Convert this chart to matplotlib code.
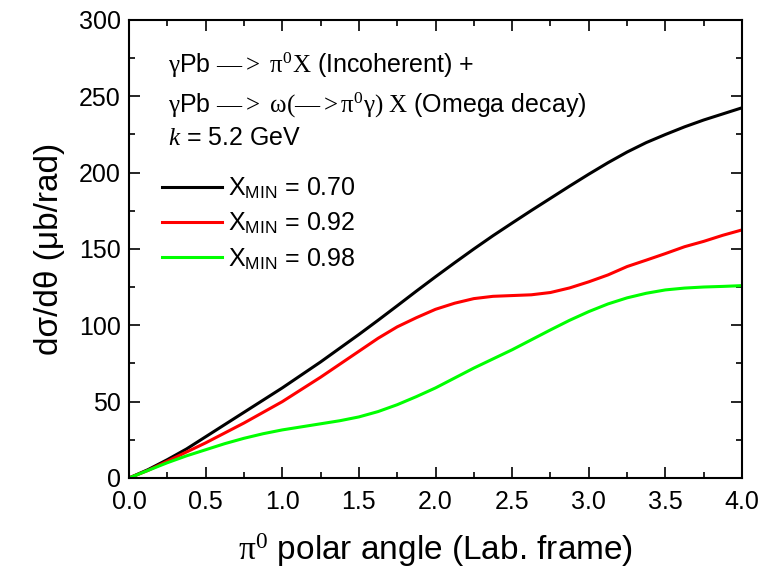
import numpy as np
import matplotlib
matplotlib.use("Agg")
import matplotlib.pyplot as plt
from matplotlib.ticker import MultipleLocator

# Data (pi0 polar angle vs d sigma / d theta)
angle = np.arange(33) * 0.125
xs_070 = np.array([0, 5.5, 12, 19, 27, 35, 43, 51, 59, 67.5, 76, 85, 94, 103.3, 112.8, 122.4,
                   131.8, 141, 150, 158.7, 167, 175.2, 183.2, 191.2, 199, 206.5, 213.5, 219.7,
                   225, 230, 234.5, 238.5, 242.5])
xs_092 = np.array([0, 5, 11, 17, 23, 29.5, 36, 43, 50, 58, 66, 74.5, 83, 91.5, 99, 105, 110.5,
                   114.5, 117.5, 119, 119.5, 120, 121.5, 124.5, 128.5, 133, 138.5, 142.7, 147,
                   151.5, 155, 159, 162.5])
xs_098 = np.array([0, 5, 10, 14.5, 18.5, 22.5, 26, 29, 31.5, 33.5, 35.5, 37.5, 40, 43.5, 48,
                   53.3, 59, 65.5, 72, 78, 84, 90.5, 97, 103.3, 109, 114, 118, 121, 123.2,
                   124.4, 125.1, 125.5, 126])
labels = [r"X$_{\mathsf{MIN}}$ = 0.70", r"X$_{\mathsf{MIN}}$ = 0.92", r"X$_{\mathsf{MIN}}$ = 0.98"]
colors = ["black", "#ff0000", "#00ff00"]

plt.rcParams["font.family"] = ["Liberation Sans", "DejaVu Sans"]
plt.rcParams["mathtext.fontset"] = "custom"
plt.rcParams["mathtext.rm"] = "Liberation Serif"
plt.rcParams["mathtext.it"] = "Liberation Serif:italic"
plt.rcParams["mathtext.sf"] = "Liberation Sans"

fig = plt.figure(figsize=(7.66, 5.73), dpi=100)
ax = fig.add_axes([0.1684, 0.1658, 0.8003, 0.7993])

for ys, lab, c in zip([xs_070, xs_092, xs_098], labels, colors):
    ax.plot(angle, ys, color=c, lw=2.2, label=lab)

ax.set_xlim(0, 4)
ax.set_ylim(0, 300)
ax.xaxis.set_major_locator(MultipleLocator(0.5))
ax.xaxis.set_minor_locator(MultipleLocator(0.25))
ax.yaxis.set_major_locator(MultipleLocator(50))
ax.yaxis.set_minor_locator(MultipleLocator(25))
ax.xaxis.set_major_formatter(plt.FormatStrFormatter("%.1f"))
ax.tick_params(which="both", direction="in", top=True, right=True, labelsize=18)
ax.tick_params(axis="x", pad=9)
ax.tick_params(axis="y", pad=6)
ax.tick_params(which="major", length=8, width=1.2)
ax.tick_params(which="minor", length=4, width=1.2)
for s in ax.spines.values():
    s.set_linewidth(1.5)

ax.set_xlabel(r"$\mathrm{\pi}^{\mathrm{0}}$ polar angle (Lab. frame)", fontsize=24, labelpad=12)
ax.set_ylabel("dσ/dθ (μb/rad)", fontsize=24, labelpad=10)

# Annotation
ax.text(0.064, 0.884, r"$\mathrm{\gamma}$Pb $\mathrm{—>}$ $\mathrm{\pi^{0}X}$ (Incoherent) +",
        transform=ax.transAxes, fontsize=18, va="baseline")
ax.text(0.064, 0.797, r"$\mathrm{\gamma}$Pb $\mathrm{—>}$ $\mathrm{\omega(—>\pi^{0}\gamma)\ X}$ (Omega decay)",
        transform=ax.transAxes, fontsize=18, va="baseline")
ax.text(0.064, 0.727, r"$k$ = 5.2 GeV", transform=ax.transAxes, fontsize=18, va="baseline")

ax.legend(loc="upper left", bbox_to_anchor=(0.054, 0.66), frameon=False, fontsize=18,
          handlelength=2.4, handletextpad=0.25, labelspacing=0.38, borderpad=0, borderaxespad=0)

fig.savefig("out.png", dpi=100)
